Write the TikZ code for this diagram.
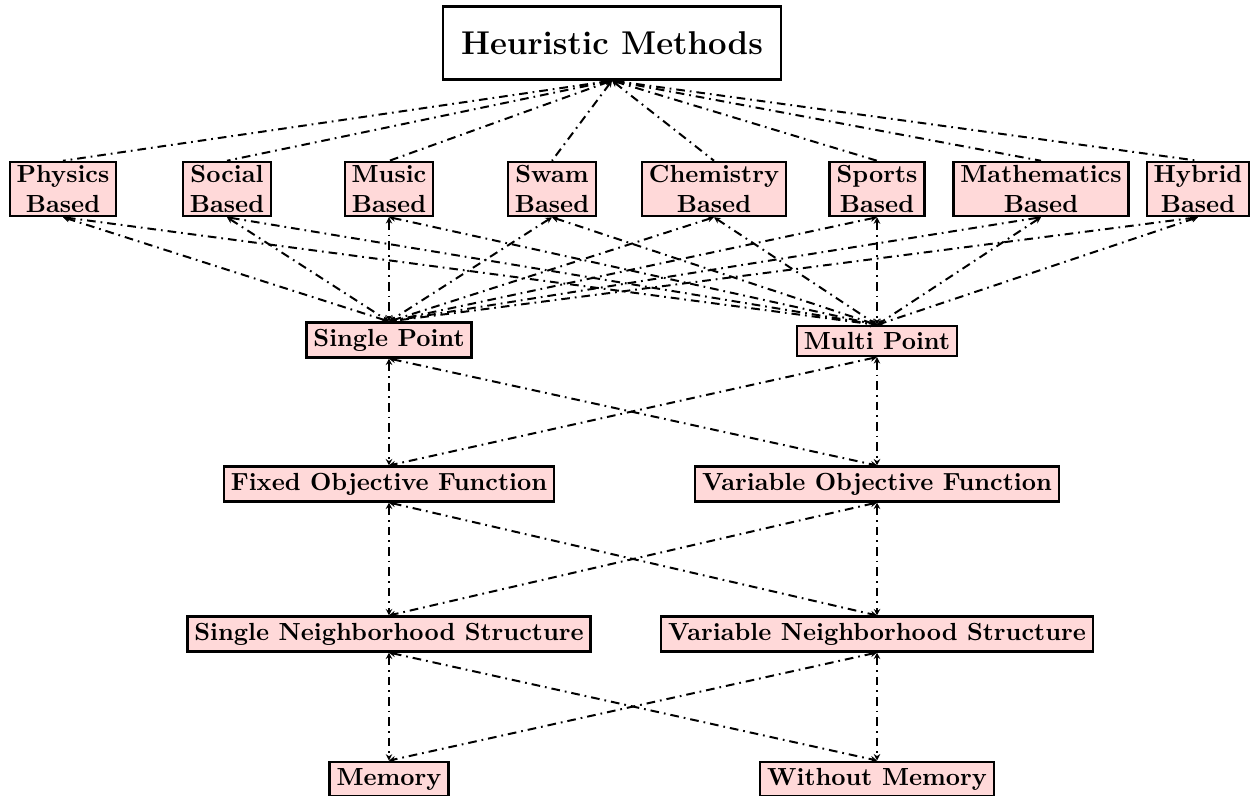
\documentclass[tikz,border=0pt]{standalone}
\usetikzlibrary{arrows.meta}
\begin{document}
\begin{tikzpicture}[x=0.4039pt,y=-0.4039pt,
  box/.style={draw,line width=1pt,fill=red!15,font=\bfseries,align=center,inner xsep=2.8pt,inner ysep=2.5pt},
  twobox/.style={box,inner ysep=1.4pt},
  topbox/.style={draw,line width=0.9pt,fill=white,font=\fontsize{13.3}{16}\selectfont\bfseries,minimum width=136.5pt,minimum height=29.5pt},
  link/.style={line width=0.8pt,dash pattern=on 3.5pt off 2pt on 0.7pt off 2pt},
  up/.style={link,{Stealth[length=2.6pt,width=2.6pt]}-},
  both/.style={link,{Stealth[length=2.6pt,width=2.6pt]}-{Stealth[length=2.6pt,width=2.6pt]}}]
\useasboundingbox (0,0) rectangle (1257,796);
\node[topbox] (H) at (612,43) {Heuristic Methods};
\node[twobox] (p1) at (63,189) {Physics\\Based};
\node[twobox] (p2) at (227,189) {Social\\Based};
\node[twobox] (p3) at (389,189) {Music\\Based};
\node[twobox] (p4) at (552,189) {Swam\\Based};
\node[twobox] (p5) at (714,189) {Chemistry\\Based};
\node[twobox] (p6) at (877,189) {Sports\\Based};
\node[twobox] (p7) at (1041,189) {Mathematics\\Based};
\node[twobox] (p8) at (1198,189) {Hybrid\\Based};
\node[box] (sp) at (389,340) {Single Point};
\node[box] (mp) at (877,341) {Multi Point};
\node[box] (fo) at (389,484) {Fixed Objective Function};
\node[box] (vo) at (877,484) {Variable Objective Function};
\node[box] (sn) at (389,634) {Single Neighborhood Structure};
\node[box] (vn) at (877,634) {Variable Neighborhood Structure};
\node[box] (me) at (389,779) {Memory};
\node[box] (wm) at (877,779) {Without Memory};
\foreach \i in {1,...,8}{
  \draw[up] (H.south) -- (p\i.north);
  \draw[both] (p\i.south) -- (sp.north);
  \draw[both] (p\i.south) -- (mp.north);
}
\foreach \a/\b/\c/\d in {sp/mp/fo/vo, fo/vo/sn/vn, sn/vn/me/wm}{
  \draw[both] (\a.south) -- (\c.north);
  \draw[both] (\a.south) -- (\d.north);
  \draw[both] (\b.south) -- (\c.north);
  \draw[both] (\b.south) -- (\d.north);
}
\end{tikzpicture}
\end{document}
